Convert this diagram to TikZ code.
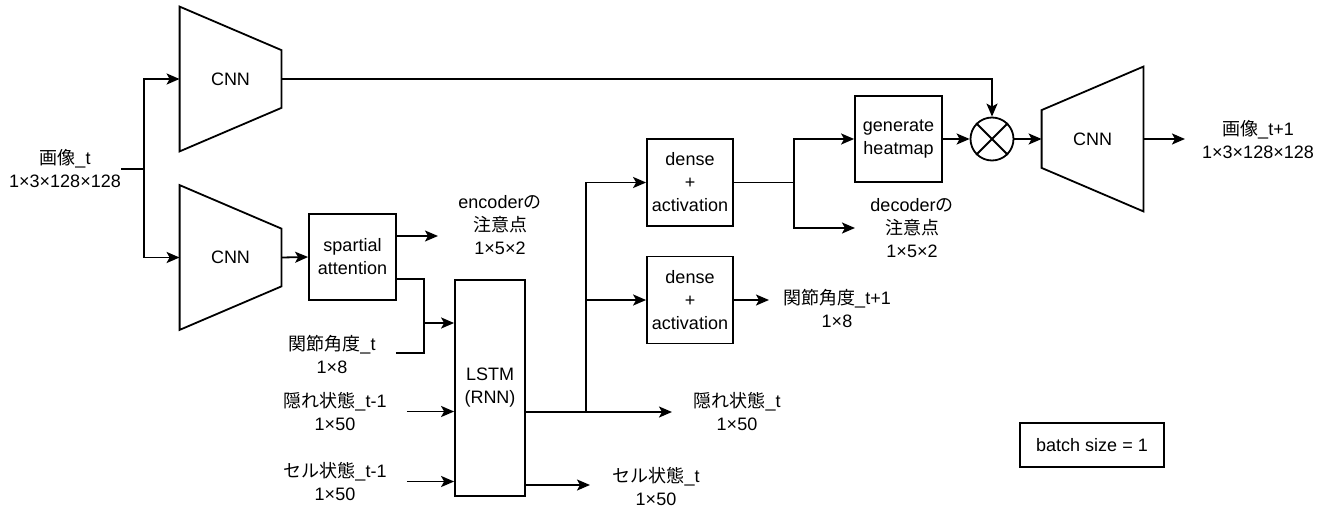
\documentclass[tikz,border=0pt]{standalone}
\usepackage{fontspec}
\setmainfont{Liberation Sans}
\newfontfamily\jpfont{Noto Sans CJK JP}
\newcommand{\jp}[1]{{\jpfont #1}}
\usepackage{tikz}
\usetikzlibrary{shapes, arrows.meta, positioning, calc}

\begin{document}
\begin{tikzpicture}[
    x=0.5pt, y=-0.5pt,
    every node/.style={font=\fontsize{9}{11.5}\selectfont},
    block/.style={rectangle, draw, line width=0.9pt, align=center, inner sep=0pt},
    cnnbox/.style={rectangle, minimum width=50.5pt, minimum height=72pt, inner sep=0pt},
    mulnode/.style={circle, draw, line width=0.9pt, minimum size=21.5pt, inner sep=0pt},
    lbl/.style={align=center, inner sep=0pt},
    line/.style={line width=0.9pt},
    arrow/.style={-{Stealth[length=6.5pt, width=5.5pt, inset=1.5pt]}, line width=0.9pt}
]
    \useasboundingbox (0,0) rectangle (1328,508);

    % Encoder側
    \node[cnnbox] (cnn1) at (230.5,79) {CNN};
    \node[cnnbox] (cnn2) at (230.5,257.5) {CNN};
    \draw[line] (cnn1.north west) -- ([yshift=-21.75pt]cnn1.north east) -- ([yshift=21.75pt]cnn1.south east) -- (cnn1.south west) -- cycle;
    \draw[line] (cnn2.north west) -- ([yshift=-21.75pt]cnn2.north east) -- ([yshift=21.75pt]cnn2.south east) -- (cnn2.south west) -- cycle;
    \node[lbl] (img_in) at (65,169) {\jp{画像}\_t\\1×3×128×128};
    \node[block, minimum width=43.5pt, minimum height=43pt] (spatt) at (352.5,257) {spartial\\attention};
    \node[lbl] (enc_att) at (500,225) {encoder\jp{の}\\\jp{注意点}\\1×5×2};
    \node[lbl] (joint_in) at (332,354.5) {\jp{関節角度}\_t\\1×8};
    \node[lbl] (hid_in) at (335,411.5) {\jp{隠れ状態}\_t-1\\1×50};
    \node[lbl] (cell_in) at (335,481.5) {\jp{セル状態}\_t-1\\1×50};

    % LSTM
    \node[block, minimum width=35pt, minimum height=108pt] (lstm) at (490,388) {LSTM\\(RNN)};
    \node[lbl] (hid_out) at (737,411.5) {\jp{隠れ状態}\_t\\1×50};
    \node[lbl] (cell_out) at (656,486) {\jp{セル状態}\_t\\1×50};

    % Decoder側
    \node[block, minimum width=43pt, minimum height=43.5pt] (dense1) at (690,182.5) {dense\\+\\activation};
    \node[block, minimum width=43pt, minimum height=43.5pt] (dense2) at (690,300) {dense\\+\\activation};
    \node[lbl] (joint_out) at (837,308.5) {\jp{関節角度}\_t+1\\1×8};
    \node[block, minimum width=43.5pt, minimum height=43pt] (heat) at (898.5,139) {generate\\heatmap};
    \node[lbl] (dec_att) at (912,228) {decoder\jp{の}\\\jp{注意点}\\1×5×2};
    \node[mulnode] (mul) at (992,139) {};
    \draw[line] (mul.north west) -- (mul.south east) (mul.north east) -- (mul.south west);
    \node[cnnbox] (cnn3) at (1092.5,139) {CNN};
    \draw[line] ([yshift=-21.75pt]cnn3.north west) -- (cnn3.north east) -- (cnn3.south east) -- ([yshift=21.75pt]cnn3.south west) -- cycle;
    \node[lbl] (img_out) at (1258,140) {\jp{画像}\_t+1\\1×3×128×128};

    \node[block, minimum width=72pt, minimum height=22pt] (batch) at (1092,445) {batch size = 1};

    % 分岐点・端点
    \coordinate (img_split) at (144,169);
    \coordinate (merge) at (424,323);
    \coordinate (lstm_split) at (586,412);
    \coordinate (dense_split) at (794,182.5);
    \coordinate (enc_end) at (438,236);
    \coordinate (hid_end) at (672,412);
    \coordinate (cell_end) at (590,485);
    \coordinate (dec_end) at (855,228);
    \coordinate (joint_end) at (769,300);
    \coordinate (out_end) at (1185,139);

    % 矢印
    \draw[line] (img_in.east) -- (img_split);
    \draw[arrow] (img_split) |- (cnn1.west);
    \draw[arrow] (img_split) |- (cnn2.west);
    \draw[arrow] (cnn2.east) -- (spatt.west);
    \draw[arrow] ([yshift=10.5pt]spatt.east) -- (enc_end);
    \draw[line] ([yshift=-11pt]spatt.east) -| (merge);
    \draw[line] ([xshift=10pt, yshift=0.75pt]joint_in.east) -| (merge);
    \draw[arrow] (merge) -- (lstm.west |- merge);
    \draw[arrow] ([xshift=10pt]hid_in.east) -- (lstm.west |- hid_in.east);
    \draw[arrow] ([xshift=10pt]cell_in.east) -- (lstm.west |- cell_in.east);

    \draw[line] ([yshift=-12pt]lstm.east) -- (lstm_split);
    \draw[arrow] (lstm_split) -- (hid_end);
    \draw[arrow] (lstm_split) |- (dense1.west);
    \draw[arrow] (lstm_split) |- (dense2.west);
    \draw[arrow] ([yshift=-48.5pt]lstm.east) -- (cell_end);

    \draw[arrow] (dense2.east) -- (joint_end);
    \draw[line] (dense1.east) -- (dense_split);
    \draw[arrow] (dense_split) |- (heat.west);
    \draw[arrow] (dense_split) |- (dec_end);
    \draw[arrow] (heat.east) -- (mul.west);
    \draw[arrow] (cnn1.east) -| (mul.north);
    \draw[arrow] (mul.east) -- (cnn3.west);
    \draw[arrow] (cnn3.east) -- (out_end);
\end{tikzpicture}
\end{document}
